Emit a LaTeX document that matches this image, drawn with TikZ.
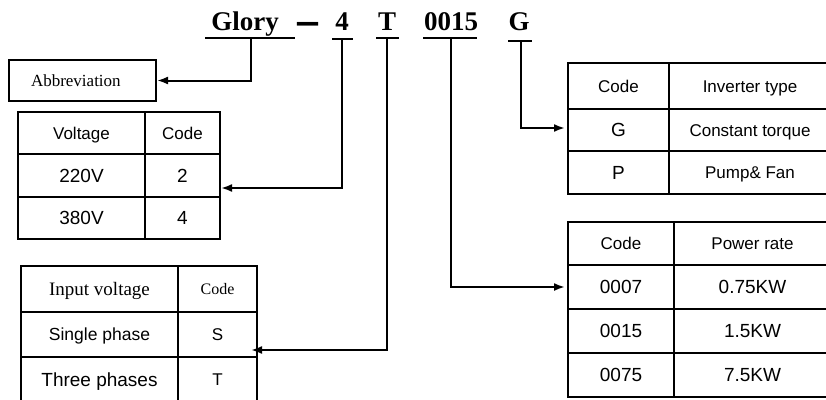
\documentclass[tikz,border=0pt]{standalone}
\usepackage{fontspec}
\setmainfont{Liberation Serif}
\setsansfont{Liberation Sans}
\usetikzlibrary{arrows.meta}

\tikzset{
  codechar/.style={anchor=base, inner sep=0pt, font=\fontsize{27}{30}\selectfont\bfseries},
  underline/.style={line width=1.5pt},
  cell/.style={draw, line width=2pt, anchor=north west, inner sep=0pt, text height=12.2pt, text depth=0pt, font=\sffamily\fontsize{17}{20}\selectfont},
  datacell/.style={cell, text height=13.6pt, font=\sffamily\fontsize{19}{22}\selectfont},
  link/.style={line width=2pt, -{Latex[length=11pt,width=8pt]}},
}

\begin{document}
\begin{tikzpicture}[x=1pt, y=-1pt]
\useasboundingbox (0,0) rectangle (826,399);
\clip (0,0) rectangle (826,399);

% Model code
\node[codechar] (glory) at (245,30) {Glory};
\node[codechar, font=\fontsize{21}{24}\selectfont\bfseries] (dash) at (307.5,36) {\scalebox{1}[2.5]{—}};
\node[codechar] (four) at (342,30) {4};
\node[codechar] (tee) at (387,30) {T};
\node[codechar] (power) at (451,30) {0015};
\node[codechar] (gee) at (519,30) {G};

% Underlines and tick points
\draw[underline] (205,38) -- (295,38);
\draw[underline] (332,39) -- (353,39);
\draw[underline] (376,38) -- (399,38);
\draw[underline] (423,38) -- (477,38);
\draw[underline] (508,41) -- (532,41);
\coordinate (glorytick) at (251,38);
\coordinate (fourtick) at (342,39);
\coordinate (teetick) at (387,38);
\coordinate (powertick) at (451,38);
\coordinate (geetick) at (521,41);

% Abbreviation box
\node[draw, line width=2pt, anchor=north west, inner ysep=0pt, inner xsep=22pt, text width=103pt, align=left, minimum height=41pt, text height=11.3pt, text depth=0pt, font=\fontsize{17}{20}\selectfont] (abbr) at (8,59) {Abbreviation};

% Voltage table
\node[cell, minimum width=127pt, minimum height=42pt] (volthead) at (17,111) {Voltage};
\node[cell, minimum width=75pt, minimum height=42pt] (voltcode) at (144,111) {Code};
\node[datacell, minimum width=127pt, minimum height=43pt] (v220) at (17,153) {220V};
\node[datacell, minimum width=75pt, minimum height=43pt] (vtwo) at (144,153) {2};
\node[datacell, minimum width=127pt, minimum height=42pt] (v380) at (17,196) {380V};
\node[datacell, minimum width=75pt, minimum height=42pt] (vfour) at (144,196) {4};

% Input voltage table
\node[cell, minimum width=157pt, minimum height=46pt, text height=12.6pt, font=\fontsize{19}{22}\selectfont] (inhead) at (20,265) {Input voltage};
\node[cell, minimum width=79pt, minimum height=46pt, text height=10.6pt, font=\fontsize{16}{19}\selectfont] (incode) at (177,265) {Code};
\node[cell, minimum width=157pt, minimum height=45pt, text height=12.5pt, font=\sffamily\fontsize{17.5}{20}\selectfont] (single) at (20,311) {Single phase};
\node[cell, minimum width=79pt, minimum height=45pt] (ess) at (177,311) {S};
\node[datacell, minimum width=157pt, minimum height=45pt] (three) at (20,356) {Three phases};
\node[cell, minimum width=79pt, minimum height=45pt] (tcode) at (177,356) {T};

% Inverter type table
\node[cell, minimum width=101pt, minimum height=46pt] (typecode) at (567,62) {Code};
\node[cell, minimum width=162pt, minimum height=46pt] (typehead) at (668,62) {Inverter type};
\node[datacell, minimum width=101pt, minimum height=42pt] (gcode) at (567,108) {G};
\node[cell, minimum width=162pt, minimum height=42pt] (torque) at (668,108) {Constant torque};
\node[datacell, minimum width=101pt, minimum height=43pt] (pcode) at (567,150) {P};
\node[cell, minimum width=162pt, minimum height=43pt] (pump) at (668,150) {Pump\& Fan};

% Power rate table
\node[cell, minimum width=106pt, minimum height=43pt] (ratecode) at (567,221) {Code};
\node[cell, minimum width=157pt, minimum height=43pt] (ratehead) at (673,221) {Power rate};
\node[datacell, minimum width=106pt, minimum height=44pt] (p0007) at (567,264) {0007};
\node[datacell, minimum width=157pt, minimum height=44pt] (r075) at (673,264) {0.75KW};
\node[datacell, minimum width=106pt, minimum height=44pt] (p0015) at (567,308) {0015};
\node[datacell, minimum width=157pt, minimum height=44pt] (r15) at (673,308) {1.5KW};
\node[datacell, minimum width=106pt, minimum height=44pt] (p0075) at (567,352) {0075};
\node[datacell, minimum width=157pt, minimum height=44pt] (r75) at (673,352) {7.5KW};

% Connectors
\draw[link] (glorytick) |- (abbr.east);
\draw[link] (fourtick) |- ([yshift=-12.5pt]vtwo.east);
\draw[link] (teetick) |- ([yshift=-15.5pt, xshift=-7pt]ess.east);
\draw[link] (powertick) |- ([xshift=-2pt]p0007.west);
\draw[link] (geetick) |- ([yshift=2pt, xshift=-2pt]gcode.west);
\end{tikzpicture}
\end{document}
